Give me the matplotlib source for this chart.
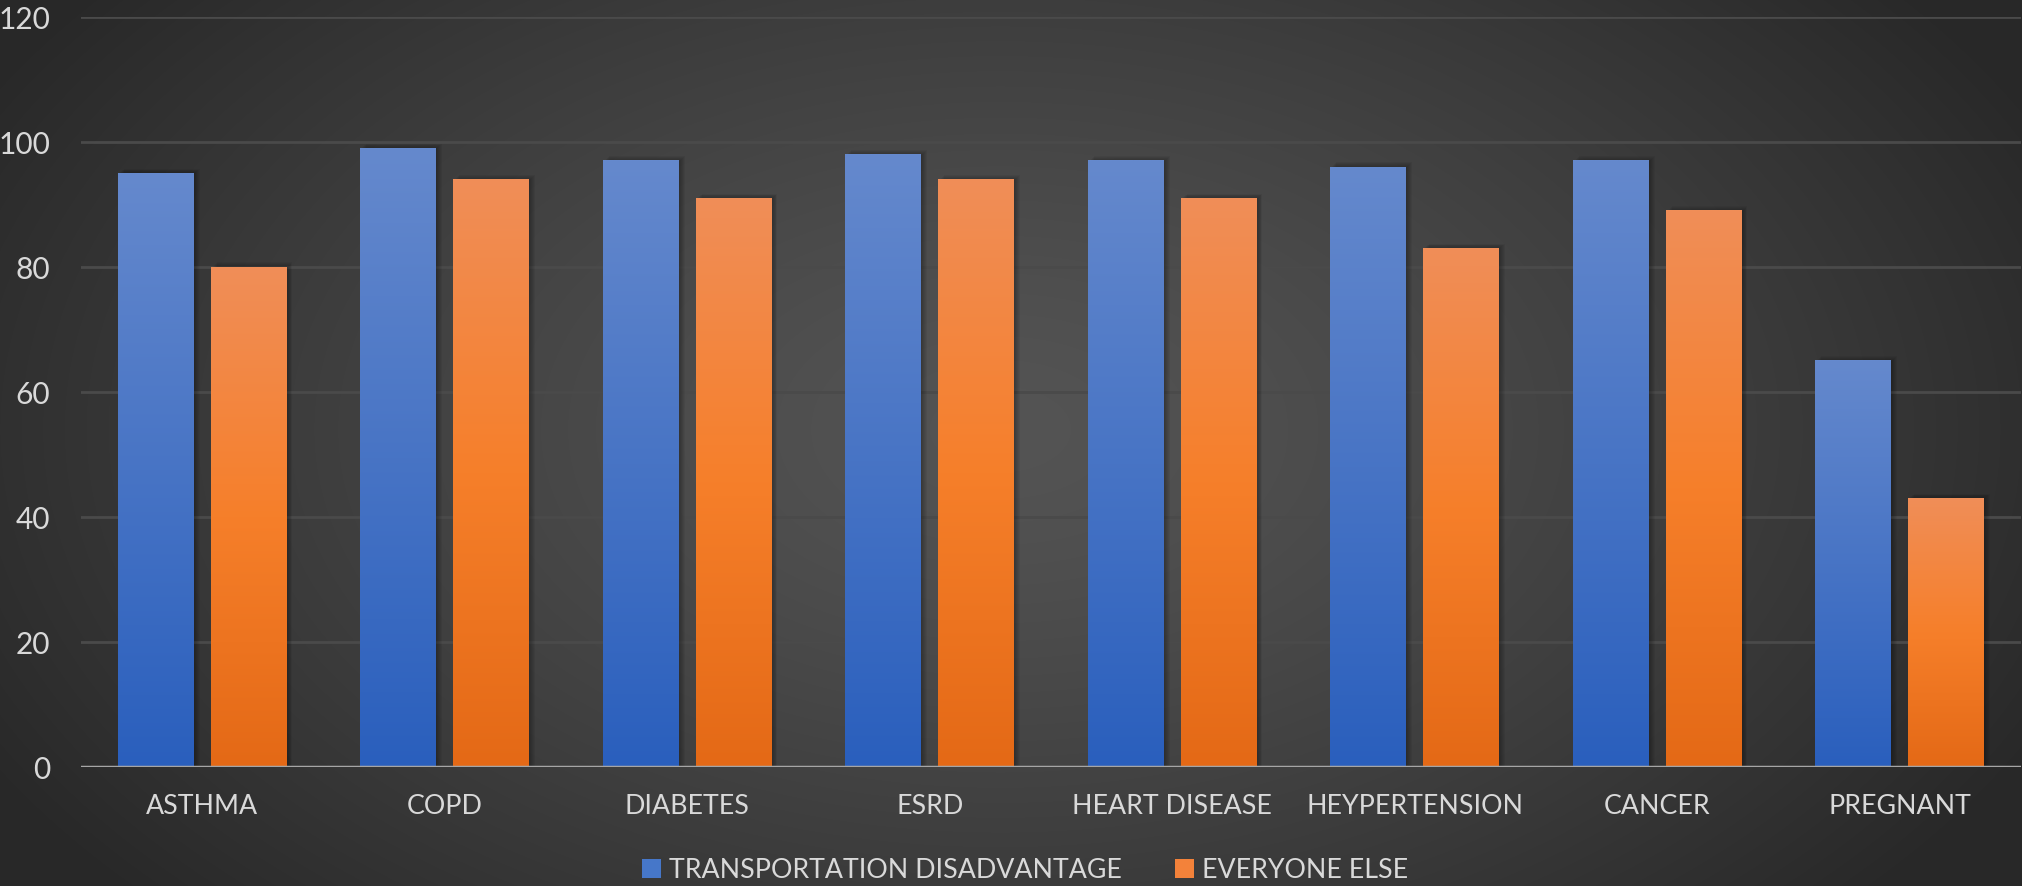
import numpy as np
import matplotlib
matplotlib.use("Agg")
from matplotlib import pyplot as plt
from matplotlib.patches import Patch
from matplotlib.colors import LinearSegmentedColormap

plt.rcParams['font.family'] = ['Lato', 'DejaVu Sans']

categories = ['ASTHMA', 'COPD', 'DIABETES', 'ESRD', 'HEART DISEASE',
              'HEYPERTENSION', 'CANCER', 'PREGNANT']
transport = [95, 99, 97, 98, 97, 96, 97, 65]
everyone = [80, 94, 91, 94, 91, 83, 89, 43]
series_names = ['TRANSPORTATION DISADVANTAGE', 'EVERYONE ELSE']
yticks = [0, 20, 40, 60, 80, 100, 120]

text_col = '#d9d9d9'
blue_top, blue_bot = '#6589cd', '#2a5fbd'
orange_top, orange_mid, orange_bot = '#f08e58', '#f67f2a', '#e46916'

fig = plt.figure(figsize=(20.22, 8.87), dpi=100)

# background radial gradient
bg = fig.add_axes([0, 0, 1, 1], zorder=-10)
yy, xx = np.mgrid[0:887, 0:2022]
d = np.sqrt(((xx - 1000) / 1150.0) ** 2 + ((yy - 430) / 700.0) ** 2)
d = np.clip(d, 0, 1)
shade = 0.33 - 0.17 * d ** 1.3
bg.imshow(np.dstack([shade, shade, shade]), aspect='auto', extent=(0, 1, 0, 1))
bg.axis('off')

ax = fig.add_axes([81 / 2022, 1 - 768 / 887, 1940 / 2022, 750 / 887])
ax.set_facecolor('none')

x = np.arange(len(categories))
w = 0.313
off = (w + 0.07) / 2

blue_cmap = LinearSegmentedColormap.from_list('b', [blue_bot, blue_top])
orange_cmap = LinearSegmentedColormap.from_list('o', [orange_bot, orange_mid, orange_top])
grad = np.linspace(0, 1, 256).reshape(-1, 1)

for xs, vals, cm in [(x - off, transport, blue_cmap), (x + off, everyone, orange_cmap)]:
    bars = ax.bar(xs, vals, w, color='none', zorder=3)
    for b in bars:
        x0, h, bw = b.get_x(), b.get_height(), b.get_width()
        # soft shadow
        for k in range(6):
            ax.bar(x0 + bw / 2 + 0.004 * (k + 1), h + 0.15 * k, bw, bottom=0,
                   color='black', alpha=0.05, zorder=2, linewidth=0)
        ax.imshow(grad, cmap=cm, origin='lower', aspect='auto',
                  extent=(x0, x0 + bw, 0, h), zorder=3)

ax.set_xlim(-0.5, len(categories) - 0.5)
ax.set_ylim(0, 120)
ax.set_yticks(yticks)
ax.set_xticks(x)
ax.set_xticklabels(categories)
ax.yaxis.grid(True, color='#4a4a4a', linewidth=2, zorder=0)
ax.axhline(0, color='#a6a6a6', linewidth=2.5, zorder=4)
for s in ax.spines.values():
    s.set_visible(False)
ax.tick_params(axis='y', length=0, pad=22, labelsize=21.5, labelcolor=text_col)
ax.tick_params(axis='x', length=0, pad=19, labelsize=19.3, labelcolor=text_col)

handles = [Patch(facecolor='#4677c9', edgecolor='none'),
           Patch(facecolor='#f3823a', edgecolor='none')]
fig.legend(handles, series_names, loc='center', bbox_to_anchor=(0.507, 1 - 871 / 887),
           ncol=2, frameon=False, fontsize=19.3, labelcolor=text_col,
           handlelength=0.71, handleheight=0.71, handletextpad=0.3, columnspacing=2.0)

fig.savefig('out.png', dpi=100)
